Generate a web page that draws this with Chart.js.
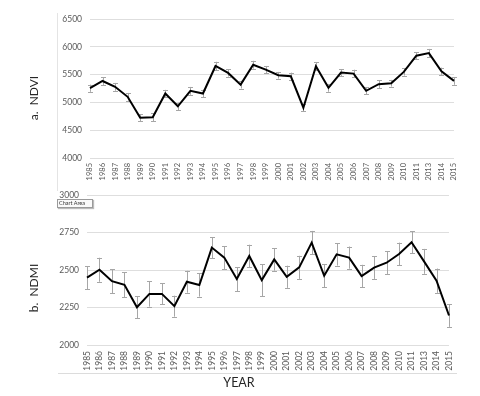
<!DOCTYPE html>
<html>
<head>
<meta charset="utf-8">
<script src="https://cdn.jsdelivr.net/npm/chart.js@4/dist/chart.umd.min.js"></script>
<style>
  html, body { margin: 0; padding: 0; background: #fff; }
  #wrap { position: relative; width: 480px; height: 396px; overflow: hidden; font-family: Lato, "Liberation Sans", Arial, sans-serif; }
  canvas { position: absolute; left: 0; }
  .ytitle { position: absolute; font-size: 12px; color: #262626; white-space: pre; transform: translate(-50%, -50%) rotate(-90deg); }
  .xtitle { position: absolute; font-size: 12.5px; color: #262626; transform: translate(-50%, -50%); }
  .vline { position: absolute; left: 57px; top: 13px; width: 1px; height: 178px; background: #e4e4e4; }
  .hline { position: absolute; left: 58px; top: 373px; width: 399px; height: 1px; background: #dcdcdc; }
  .tip { position: absolute; left: 57px; top: 199px; width: 33px; height: 7px; border: 1px solid #9a9a9a; background: #fafafa;
         font-size: 5.5px; line-height: 7px; color: #333; padding-left: 1px; box-shadow: 1px 1px 1px #bbb; }
</style>
</head>
<body>
<div id="wrap">
  <div class="vline"></div>
  <canvas id="top" width="480" height="182" style="top:0"></canvas>
  <canvas id="bot" width="480" height="214" style="top:182px"></canvas>
  <div class="hline"></div>
  <div class="tip">Chart Area</div>
  <div class="ytitle" style="left:33px; top:98px;">a.  NDVI</div>
  <div class="ytitle" style="left:33px; top:288px;">b.  NDMI</div>
  <div class="xtitle" style="left:239px; top:382px;">YEAR</div>
</div>
<script>
const years = ['1985','1986','1987','1988','1989','1990','1991','1992','1993','1994','1995','1996','1997','1998','1999','2000','2001','2002','2003','2004','2005','2006','2007','2008','2009','2010','2011','2013','2014','2015'];
const ndvi = [5255,5385,5280,5100,4725,4732,5160,4930,5208,5160,5655,5530,5320,5678,5590,5488,5470,4905,5650,5262,5536,5518,5208,5327,5345,5548,5840,5887,5560,5387];
const ndviErr = [65,70,70,70,60,70,65,65,70,70,75,65,70,70,65,60,65,65,75,70,65,70,60,70,60,65,60,75,65,70];
const ndmi = [2449,2502,2426,2402,2252,2341,2341,2259,2422,2400,2650,2583,2440,2594,2433,2571,2455,2518,2683,2462,2605,2583,2460,2516,2549,2607,2685,2558,2429,2197];
const ndmiErr = [78,80,81,83,73,85,70,70,73,77,70,77,80,75,107,75,74,77,78,77,75,74,75,75,75,76,74,83,81,76];
const ndviTicks = [4000, 6500, 500];
const ndmiTicks = [2000, 3000, 250];

const errorBars = {
  id: 'errorBars',
  beforeDatasetsDraw(chart) {
    const ctx = chart.ctx;
    const ys = chart.scales.y;
    chart.data.datasets.forEach((ds, di) => {
      if (!ds.errors) return;
      const meta = chart.getDatasetMeta(di);
      ctx.save();
      ctx.strokeStyle = '#a6a6a6';
      ctx.lineWidth = 1;
      meta.data.forEach((pt, i) => {
        const v = ds.data[i], e = ds.errors[i];
        const y1 = ys.getPixelForValue(v + e), y2 = ys.getPixelForValue(v - e);
        const x = Math.round(pt.x) + 0.5;
        ctx.beginPath();
        ctx.moveTo(x, y1); ctx.lineTo(x, y2);
        ctx.moveTo(x - 2.5, Math.round(y1) + 0.5); ctx.lineTo(x + 2.5, Math.round(y1) + 0.5);
        ctx.moveTo(x - 2.5, Math.round(y2) + 0.5); ctx.lineTo(x + 2.5, Math.round(y2) + 0.5);
        ctx.stroke();
      });
      ctx.restore();
    });
  }
};

function makeChart(id, values, errs, ticks, opts) {
  return new Chart(document.getElementById(id), {
    type: 'line',
    data: {
      labels: years,
      datasets: [{
        data: values,
        errors: errs,
        borderColor: '#000',
        borderWidth: 2,
        pointRadius: 0,
        tension: 0,
        fill: false
      }]
    },
    options: {
      responsive: false,
      animation: false,
      events: [],
      layout: { padding: opts.padding },
      plugins: { legend: { display: false }, tooltip: { enabled: false } },
      scales: {
        x: {
          grid: { display: false, drawTicks: false },
          border: { display: false },
          ticks: {
            minRotation: 90, maxRotation: 90, autoSkip: false, padding: opts.xPad,
            color: '#595959',
            font: { family: 'Lato, "Liberation Sans", Arial, sans-serif', size: opts.xFont }
          },
          afterFit(s) { s.height = opts.xHeight; }
        },
        y: {
          min: ticks[0], max: ticks[1],
          grid: { color: '#dedede', drawTicks: false, lineWidth: 1 },
          border: { display: false },
          ticks: {
            stepSize: ticks[2], padding: 8, color: '#595959',
            callback: (v) => String(v),
            font: { family: 'Lato, "Liberation Sans", Arial, sans-serif', size: 8.5 }
          },
          afterFit(s) { s.width = opts.yWidth; }
        }
      }
    },
    plugins: [errorBars]
  });
}

makeChart('top', ndvi, ndviErr, ndviTicks, {
  padding: { top: 19, right: 26, left: 0, bottom: 0 },
  yWidth: 90, xHeight: 24, xFont: 7.5, xPad: 5
});
makeChart('bot', ndmi, ndmiErr, ndmiTicks, {
  padding: { top: 13, right: 31, left: 0, bottom: 0 },
  yWidth: 87, xHeight: 51, xFont: 8.5, xPad: 6
});
</script>
</body>
</html>
